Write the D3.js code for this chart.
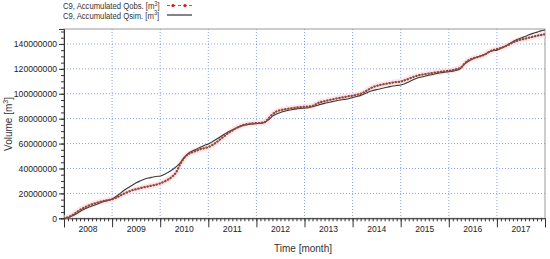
<!DOCTYPE html>
<html><head><meta charset="utf-8">
<script src="https://cdn.jsdelivr.net/npm/d3@7"></script>
<style>body{margin:0;background:#fff}svg{display:block;font-family:"Liberation Sans",Arial,sans-serif}</style>
</head><body>
<svg id="c" width="550" height="259"></svg>
<script>
// Monthly accumulated volumes (million m3), Jan 2008 .. Jan 2018
const startYear = 2008;
const qobs = [
 0,0.8,2.5,4.5,6.8,8.5,10.0,11.3,12.3,13.2,14.0,14.6,
 15.3,16.5,18.2,19.8,21.2,22.5,23.4,24.2,25.0,25.6,26.3,27.0,
 28.0,29.5,31.2,33.5,37.0,43.5,48.5,51.5,53.0,54.2,55.5,56.3,
 57.2,58.8,61.0,63.5,66.0,68.5,70.5,72.5,74.0,75.2,75.8,76.2,
 76.4,76.6,77.2,80.0,83.5,85.8,86.8,87.5,88.0,88.5,89.0,89.3,
 89.6,89.8,90.2,92.0,93.3,94.0,94.8,95.5,96.2,96.8,97.4,98.0,
 98.5,99.2,100.0,101.5,103.5,105.2,106.3,107.2,107.8,108.4,109.0,109.4,
 109.8,110.8,112.0,113.3,114.4,115.2,115.7,116.2,116.7,117.2,117.7,118.1,
 118.5,119.0,119.8,121.0,124.5,127.0,128.3,129.3,130.2,131.5,133.5,135.0,
 135.8,136.8,138.0,139.5,141.2,142.5,143.5,144.2,145.0,145.8,146.6,147.2,147.8
];
const qsim = [
 0,0.5,1.8,3.5,5.5,7.2,8.6,9.8,11.0,12.3,13.5,14.5,
 15.5,17.5,20.0,22.5,24.5,26.5,28.5,30.0,31.3,32.3,33.0,33.6,
 34.0,35.2,37.0,39.0,41.5,44.5,49.0,52.0,54.0,55.5,57.0,58.5,
 59.7,61.5,63.5,65.5,67.5,69.5,71.0,72.5,73.8,74.8,75.3,75.7,
 76.0,76.3,77.0,79.0,82.0,83.8,85.0,86.0,86.8,87.4,87.9,88.2,
 88.5,88.8,89.5,90.5,91.5,92.3,93.0,93.7,94.4,95.0,95.5,96.0,
 97.0,97.8,98.7,100.0,101.5,102.5,103.3,104.0,104.8,105.5,106.2,106.6,
 107.0,108.0,109.5,111.0,112.4,113.3,114.0,114.8,115.5,116.2,116.9,117.3,
 117.7,118.2,118.8,120.5,124.0,126.3,128.0,129.3,130.5,131.8,133.5,134.5,
 135.0,136.5,138.0,140.0,142.0,143.5,144.8,146.0,147.3,148.5,149.5,150.5,151.2
];
const yearLabels = ["2008","2009","2010","2011","2012","2013","2014","2015","2016","2017"];
const yTicks = [0,20000000,40000000,60000000,80000000,100000000,120000000,140000000];
const seriesNames = ["C9, Accumulated Qobs. [m", "C9, Accumulated Qsim. [m"];

const svg = d3.select("#c");
const L = 64, R = 545, T = 29, B = 218.3;
const x = d3.scaleLinear().domain([startYear, startYear + yearLabels.length]).range([L, R]);
const y = d3.scaleLinear().domain([0, 152000000]).range([B, T]);
const toPts = arr => arr.map((v, i) => ({t: startYear + i / 12, v: v * 1e6}));
const obs = toPts(qobs), sim = toPts(qsim);

// grid
const g = svg.append("g");
const years = d3.range(startYear, startYear + yearLabels.length + 1);
g.selectAll(".vg").data(years.slice(1, -1)).join("line")
 .attr("x1", d => x(d)).attr("x2", d => x(d)).attr("y1", T).attr("y2", B)
 .attr("stroke", "#86a3ea").attr("stroke-width", 1).attr("stroke-dasharray", "1,2");
g.selectAll(".hg").data(yTicks.slice(1)).join("line")
 .attr("x1", L).attr("x2", R).attr("y1", d => y(d)).attr("y2", d => y(d))
 .attr("stroke", "#86a3ea").attr("stroke-width", 1).attr("stroke-dasharray", "1,2");

// frame
svg.append("rect").attr("x", L).attr("y", T).attr("width", R - L).attr("height", B - T)
 .attr("fill", "none").attr("stroke", "#9a9a9a").attr("stroke-width", 1);

// y axis
const yAx = svg.append("g").attr("transform", `translate(${L},0)`)
 .call(d3.axisLeft(y).tickValues(yTicks).tickSize(5).tickPadding(2).tickFormat(d3.format("d")));
yAx.select(".domain").attr("stroke", "#333");
yAx.selectAll(".tick line").attr("stroke", "#333");
yAx.selectAll("text").attr("font-size", 9.3).attr("fill", "#222")
 .attr("font-family", "Liberation Sans, Arial")
 .attr("textLength", d => String(d).length * 4.8).attr("lengthAdjust", "spacingAndGlyphs");
svg.append("g").attr("transform", `translate(${L},0)`)
 .call(d3.axisLeft(y).tickValues(d3.range(0, 152000000, 5000000)).tickSize(3).tickFormat(""))
 .call(s => s.select(".domain").remove()).selectAll("line").attr("stroke", "#333");

// x axis
const xAx = svg.append("g").attr("transform", `translate(0,${B})`)
 .call(d3.axisBottom(x).tickValues(years).tickSize(9).tickFormat(""));
xAx.select(".domain").attr("stroke", "#333");
xAx.selectAll("line").attr("stroke", "#333");
svg.append("g").attr("transform", `translate(0,${B})`)
 .call(d3.axisBottom(x).tickValues(d3.range(0, 120).map(i => startYear + i / 12)).tickSize(3).tickFormat(""))
 .call(s => s.select(".domain").remove()).selectAll("line").attr("stroke", "#333");
svg.append("g").selectAll("text").data(yearLabels).join("text")
 .attr("x", (d, i) => x(startYear + i + 0.5)).attr("y", B + 14)
 .attr("text-anchor", "middle").attr("font-size", 9).attr("fill", "#222")
 .attr("textLength", 19).attr("lengthAdjust", "spacingAndGlyphs").text(d => d);

// axis titles
svg.append("text").attr("x", 303).attr("y", 252).attr("text-anchor", "middle")
 .attr("font-size", 10).attr("fill", "#333").text("Time [month]");
const yt = svg.append("text").attr("transform", "translate(12,124) rotate(-90)")
 .attr("text-anchor", "middle").attr("font-size", 10).attr("fill", "#333");
yt.append("tspan").text("Volume [m");
yt.append("tspan").attr("font-size", 7).attr("dy", -4).text("3");
yt.append("tspan").attr("dy", 4).text("]");

// lines
const line = d3.line().x(d => x(d.t)).y(d => y(d.v)).curve(d3.curveMonotoneX);
svg.append("clipPath").attr("id", "pc").append("rect")
 .attr("x", L).attr("y", T - 3).attr("width", R - L).attr("height", B - T + 3);
const pg = svg.append("g").attr("clip-path", "url(#pc)");
pg.append("path").datum(obs).attr("d", line).attr("fill", "none")
 .attr("stroke", "#fcd6e8").attr("stroke-width", 6).attr("opacity", 0.6);
pg.append("path").datum(sim).attr("d", line).attr("fill", "none")
 .attr("stroke", "#3a3a3a").attr("stroke-width", 1.1);
pg.append("path").datum(obs).attr("d", line).attr("fill", "none")
 .attr("stroke", "#8e4a2c").attr("stroke-width", 2.2).attr("stroke-linecap", "round")
 .attr("stroke-dasharray", "0.5,2.6");

// legend
const lg = svg.append("g");
seriesNames.forEach((s, i) => {
  const ty = 9 + i * 9.5;
  const t = lg.append("text").attr("transform", `translate(63,${ty}) scale(0.81,1)`)
    .attr("font-size", 9.5).attr("fill", "#333");
  t.append("tspan").text(s);
  t.append("tspan").attr("font-size", 7).attr("dy", -3.5).text("3");
  t.append("tspan").attr("dy", 3.5).text("]");
});
lg.append("line").attr("x1", 167).attr("x2", 192).attr("y1", 5.5).attr("y2", 5.5)
 .attr("stroke", "#f03c3c").attr("stroke-width", 1.2).attr("stroke-dasharray", "3,2.5");
lg.selectAll("circle").data([173, 185]).join("circle").attr("cx", d => d).attr("cy", 5.5)
 .attr("r", 1.6).attr("fill", "#e01010");
lg.append("line").attr("x1", 167).attr("x2", 192).attr("y1", 15).attr("y2", 15)
 .attr("stroke", "#333").attr("stroke-width", 1.2);
</script>
</body></html>
